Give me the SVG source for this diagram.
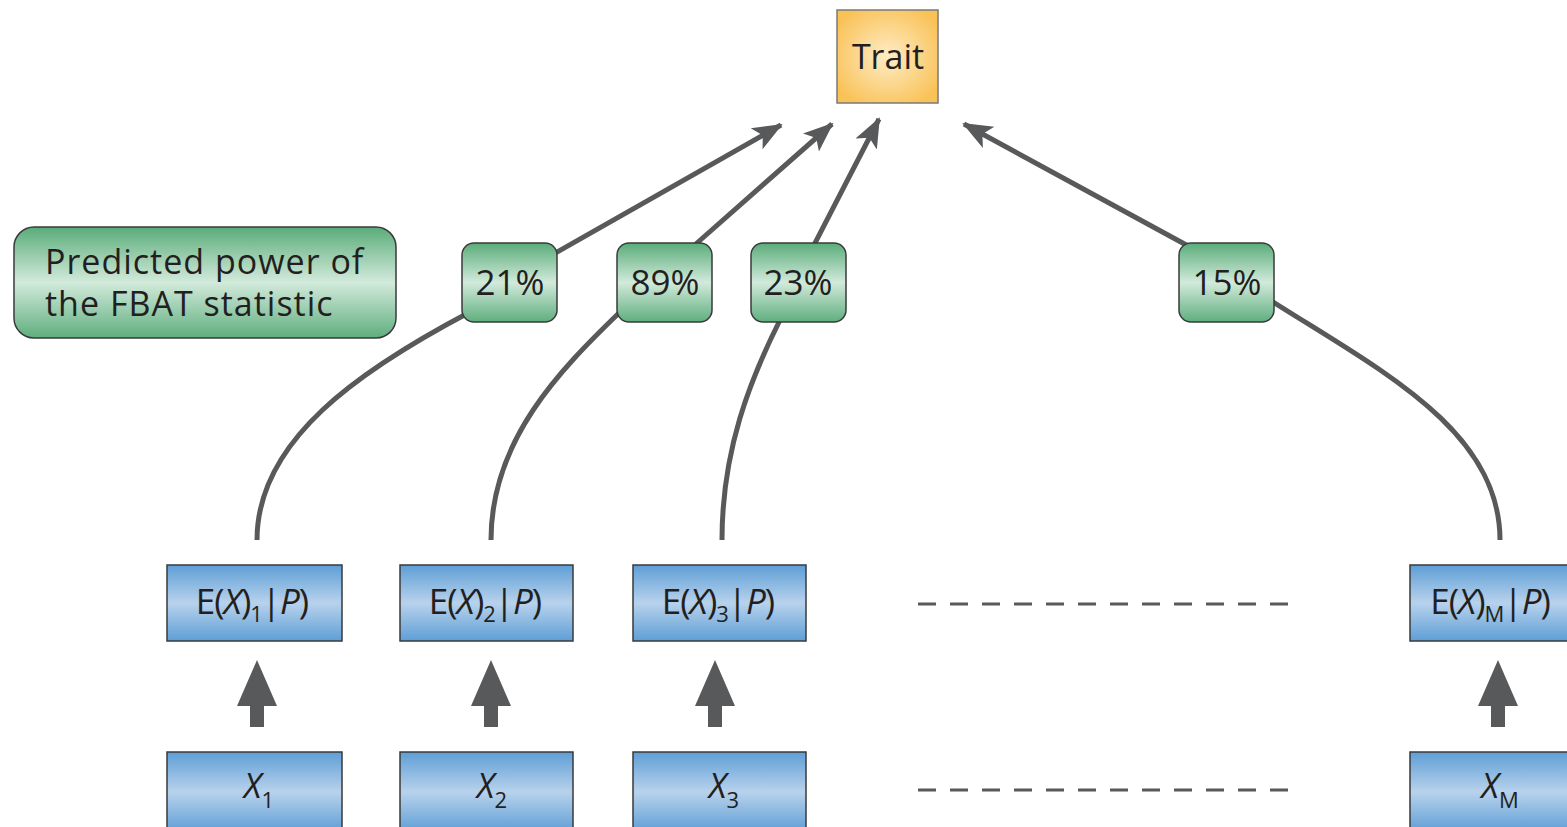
<svg xmlns="http://www.w3.org/2000/svg" width="1567" height="827" viewBox="0 0 1567 827">
<style>
.lbl{font-family:"Open Sans","Lato","Liberation Sans",sans-serif;fill:#231f20;}
.conn{fill:none;stroke:#58595b;stroke-width:5;}
.box{stroke:#3a3a3a;stroke-width:1.5;}
.blue{fill:url(#gBlue);}
.green{fill:url(#gGreen);}
.dash{stroke:#58595b;stroke-width:3;stroke-dasharray:18 14;fill:none;}
.big{fill:#58595b;}
.pct{font-size:35px;text-anchor:middle;}
.el{font-size:35px;text-anchor:middle;letter-spacing:-1px;}
.xl{font-size:34px;text-anchor:middle;}
.leg{font-size:34px;letter-spacing:1px;}
</style>
<defs>
<linearGradient id="gBlue" x1="0" y1="0" x2="0" y2="1">
<stop offset="0" stop-color="#5e9ed6"/>
<stop offset="0.5" stop-color="#b8d2ec"/>
<stop offset="1" stop-color="#5e9ed6"/>
</linearGradient>
<linearGradient id="gGreen" x1="0" y1="0" x2="0" y2="1">
<stop offset="0" stop-color="#5aac7a"/>
<stop offset="0.5" stop-color="#d2eadb"/>
<stop offset="1" stop-color="#5fae7e"/>
</linearGradient>
<radialGradient id="gOrange" cx="0.5" cy="0.5" r="0.6">
<stop offset="0" stop-color="#feecc6"/>
<stop offset="1" stop-color="#f9c257"/>
</radialGradient>
<marker id="ah" markerUnits="userSpaceOnUse" markerWidth="32" markerHeight="32" viewBox="0 0 32 32" refX="28" refY="16" orient="auto">
<path d="M0,4 L30,16 L0,28 L7,16 Z" fill="#58595b"/>
</marker>
</defs>

<g id="connectors">
<path class="conn" d="M257,540 C257,440 360,370 470,312 L557,252 L781,125" marker-end="url(#ah)"/>
<path class="conn" d="M491,540 C491,440 560,370 620,312 L697,243 L832,124" marker-end="url(#ah)"/>
<path class="conn" d="M722,540 C722,450 750,380 780,320 L815,243 L879,119" marker-end="url(#ah)"/>
<path class="conn" d="M1500,540 C1500,430 1380,370 1270,300 L1190,247 L964,124" marker-end="url(#ah)"/>
<line class="dash" x1="918" y1="604" x2="1291" y2="604"/>
<line class="dash" x1="918" y1="790" x2="1291" y2="790"/>
<g id="bigArrows">
<path class="big" d="M250,727 L250,706 L237,706 L257,660 L277,706 L264,706 L264,727 Z"/>
<path class="big" d="M484,727 L484,706 L471,706 L491,660 L511,706 L498,706 L498,727 Z"/>
<path class="big" d="M708,727 L708,706 L695,706 L715,660 L735,706 L722,706 L722,727 Z"/>
<path class="big" d="M1491,727 L1491,706 L1478,706 L1498,660 L1518,706 L1505,706 L1505,727 Z"/>
</g>
</g>

<g id="trait">
<rect x="837" y="10" width="101" height="93" fill="url(#gOrange)" stroke="#7a7a7a" stroke-width="1.5"/>
<text class="lbl" x="888" y="69" font-size="34" text-anchor="middle">Trait</text>
</g>

<g id="legend">
<rect class="box green" x="14" y="227" width="382" height="111" rx="20"/>
<text class="lbl leg" x="45" y="274">Predicted power of</text>
<text class="lbl leg" x="45" y="316">the FBAT statistic</text>
</g>

<g id="p21">
<rect class="box green" x="462" y="243" width="95" height="79" rx="12"/>
<text class="lbl pct" x="510" y="295">21%</text>
</g>
<g id="p89">
<rect class="box green" x="617" y="243" width="95" height="79" rx="12"/>
<text class="lbl pct" x="665" y="295">89%</text>
</g>
<g id="p23">
<rect class="box green" x="751" y="243" width="95" height="79" rx="12"/>
<text class="lbl pct" x="798" y="295">23%</text>
</g>
<g id="p15">
<rect class="box green" x="1179" y="243" width="95" height="79" rx="12"/>
<text class="lbl pct" x="1227" y="295">15%</text>
</g>

<g id="e1">
<rect class="box blue" x="167" y="565" width="175" height="76"/>
<text class="lbl el" x="252" y="614">E(<tspan font-style="italic">X</tspan>)<tspan font-size="22" dy="8">1</tspan><tspan dy="-8">|</tspan><tspan font-style="italic">P</tspan>)</text>
</g>
<g id="e2">
<rect class="box blue" x="400" y="565" width="173" height="76"/>
<text class="lbl el" x="485" y="614">E(<tspan font-style="italic">X</tspan>)<tspan font-size="22" dy="8">2</tspan><tspan dy="-8">|</tspan><tspan font-style="italic">P</tspan>)</text>
</g>
<g id="e3">
<rect class="box blue" x="633" y="565" width="173" height="76"/>
<text class="lbl el" x="718" y="614">E(<tspan font-style="italic">X</tspan>)<tspan font-size="22" dy="8">3</tspan><tspan dy="-8">|</tspan><tspan font-style="italic">P</tspan>)</text>
</g>
<g id="eM">
<rect class="box blue" x="1410" y="565" width="170" height="76"/>
<text class="lbl el" x="1490" y="614">E(<tspan font-style="italic">X</tspan>)<tspan font-size="22" dy="8">M</tspan><tspan dy="-8">|</tspan><tspan font-style="italic">P</tspan>)</text>
</g>

<g id="x1">
<rect class="box blue" x="167" y="752" width="175" height="80"/>
<text class="lbl xl" x="259" y="798"><tspan font-style="italic">X</tspan><tspan font-size="22" dy="10">1</tspan></text>
</g>
<g id="x2">
<rect class="box blue" x="400" y="752" width="173" height="80"/>
<text class="lbl xl" x="492" y="798"><tspan font-style="italic">X</tspan><tspan font-size="22" dy="10">2</tspan></text>
</g>
<g id="x3">
<rect class="box blue" x="633" y="752" width="173" height="80"/>
<text class="lbl xl" x="724" y="798"><tspan font-style="italic">X</tspan><tspan font-size="22" dy="10">3</tspan></text>
</g>
<g id="xM">
<rect class="box blue" x="1410" y="752" width="170" height="80"/>
<text class="lbl xl" x="1500" y="798"><tspan font-style="italic">X</tspan><tspan font-size="22" dy="10">M</tspan></text>
</g>
</svg>
